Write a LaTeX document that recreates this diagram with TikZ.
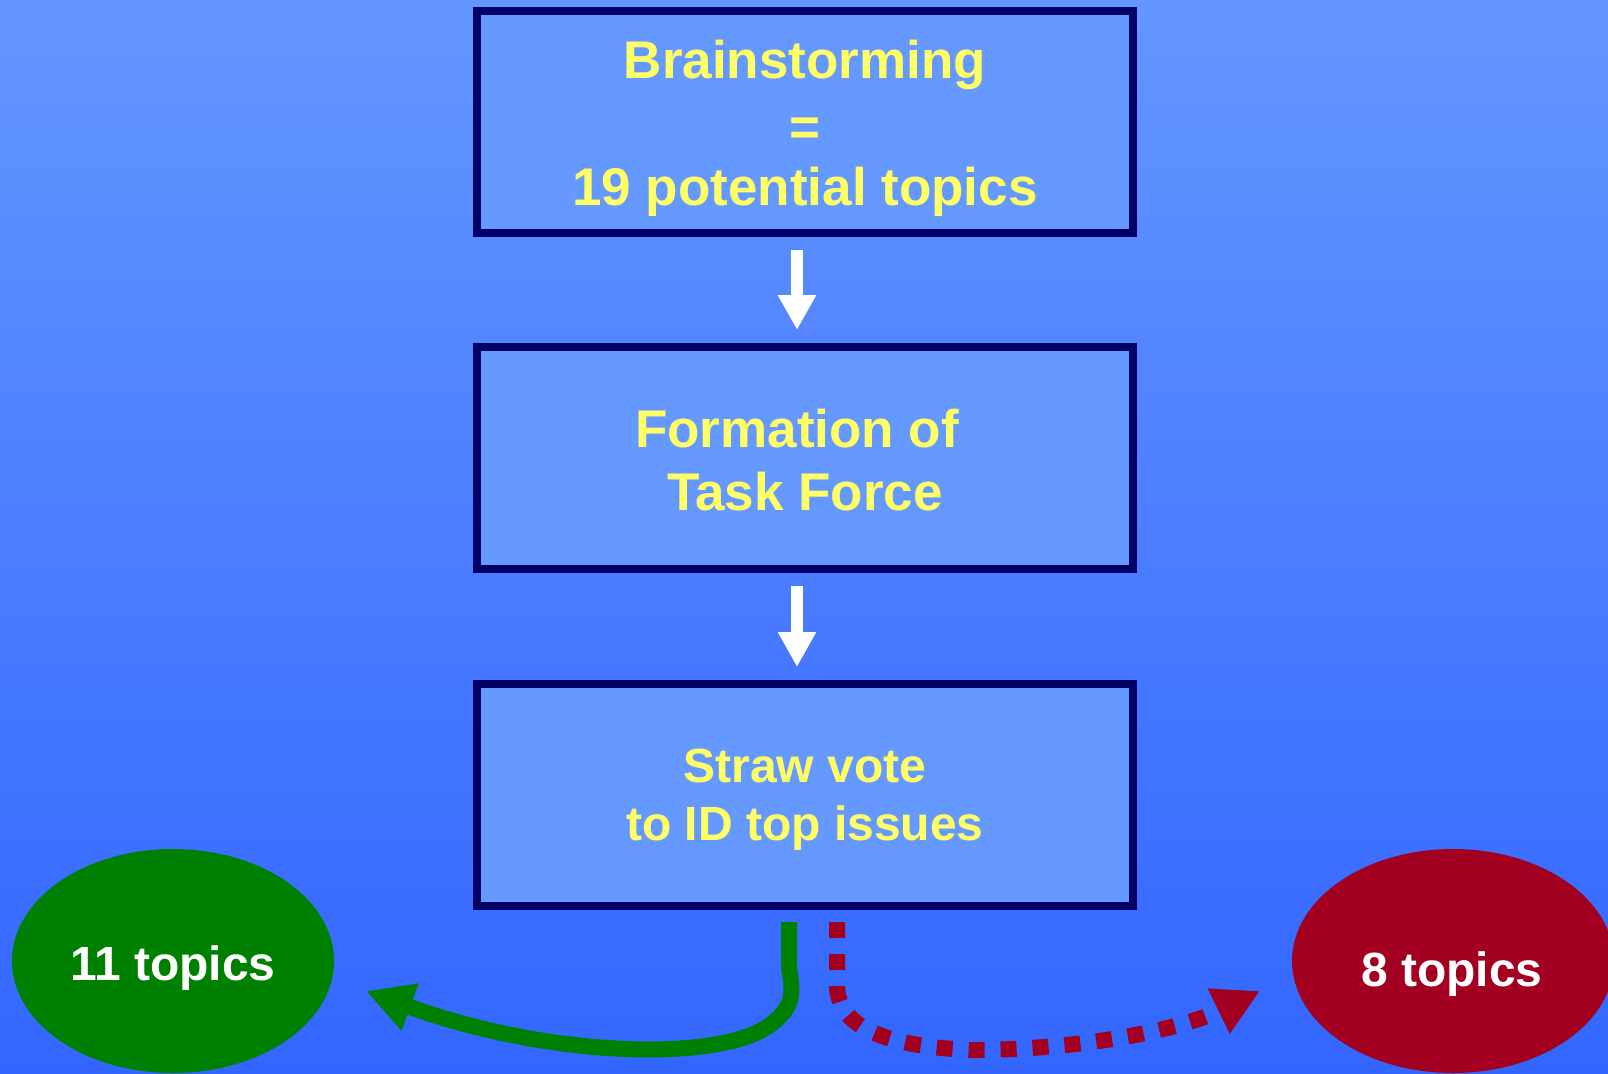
\documentclass[tikz,border=0pt]{standalone}
\usepackage{fontspec}
\setmainfont{Liberation Sans}
\usetikzlibrary{arrows.meta,shapes.geometric}
\definecolor{bgtop}{RGB}{99,150,255}
\definecolor{bgbot}{RGB}{51,102,255}
\definecolor{boxfill}{RGB}{102,153,255}
\definecolor{boxline}{RGB}{0,0,102}
\definecolor{txtyellow}{RGB}{255,255,102}
\definecolor{topicgreen}{RGB}{0,128,0}
\definecolor{topicred}{RGB}{163,0,33}
\begin{document}
\begin{tikzpicture}[x=1pt,y=-1pt,
  stepbox/.style={draw=boxline, fill=boxfill, line width=8pt, minimum width=656pt, minimum height=222pt, inner sep=0pt},
  boxtext/.style={text=txtyellow, align=center, inner sep=0pt, font=\fontsize{53}{63.6}\selectfont\bfseries},
  smalltext/.style={boxtext, font=\fontsize{48}{57.6}\selectfont\bfseries},
  topic/.style={ellipse, minimum width=322pt, minimum height=224pt, inner sep=0pt},
  topictext/.style={text=white, inner sep=0pt, anchor=base, font=\fontsize{48}{57.6}\selectfont\bfseries},
  downarrow/.style={white, line width=12pt, -{Triangle[length=35pt,width=36pt]}, shorten <=13pt, shorten >=13pt}
]
\useasboundingbox (0,0) rectangle (1608,1073);
\shade[top color=bgtop, bottom color=bgbot] (0,0) rectangle (1608,1073);

\node[stepbox] (b1) at (805,122) {};
\node[boxtext] (t1) at (805,128) {Brainstorming\\[4pt]=\\[-4pt]19 potential topics};
\node[stepbox] (b2) at (805,458) {};
\node[boxtext] (t2) at (805,460) {Formation of\hspace*{16pt}\\Task Force};
\node[stepbox] (b3) at (805,795) {};
\node[smalltext] (t3) at (805,800) {Straw vote\\to ID top issues};

\node[topic, fill=topicgreen] (g) at (173,961) {};
\node[topictext] (gt) at (173,980) {11 topics};
\node[topic, fill=topicred] (r) at (1453,961) {};
\node[topictext] (rt) at (1452,986) {8 topics};

\draw[downarrow] ([xshift=-8pt]b1.south) -- ([xshift=-8pt]b2.north);
\draw[downarrow] ([xshift=-8pt]b2.south) -- ([xshift=-8pt]b3.north);

\coordinate (gs) at ([xshift=-16pt,yshift=-12pt]b3.south);
\coordinate (ge) at (366,991);
\draw[topicgreen, line width=16pt, line join=round, -{Triangle[length=47pt,width=47pt]}]
  (gs) -- (789,967) .. controls (792,990) and (797,1005) .. (770,1025)
  .. controls (720,1062) and (550,1058) .. (ge);

\coordinate (rs) at ([xshift=32pt,yshift=-12pt]b3.south);
\coordinate (re) at (1260,991);
\draw[topicred, line width=16pt, dash pattern=on 16pt off 16pt, -{Triangle[length=46pt,width=47pt]}]
  (rs) -- (837,980) .. controls (835,1015) and (860,1045) .. (970,1050)
  .. controls (1080,1050) and (1180,1030) .. (re);
\end{tikzpicture}
\end{document}
